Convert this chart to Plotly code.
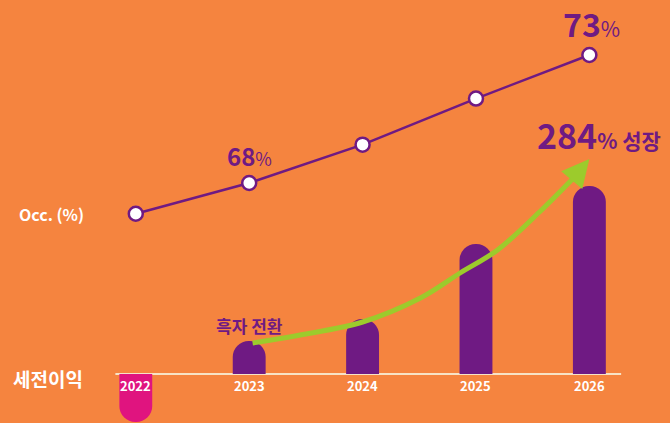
import plotly.graph_objects as go

# ---- data ----
years = [2022, 2023, 2024, 2025, 2026]
year_labels = ["2022", "2023", "2024", "2025", "2026"]
occ = [66.8, 68.0, 69.5, 71.3, 73.0]          # Occ. (%)
profit = [-48, 33, 55, 130, 188]              # 세전이익 (relative units)
bar_colors = ["#E0147F", "#6F1A83", "#6F1A83", "#6F1A83", "#6F1A83"]

# growth arrow path (bar-axis coordinates)
arrow_x = [2023.03, 2023.45, 2024.0, 2024.51, 2024.86, 2025.19, 2025.56, 2025.86]
arrow_y = [31, 39, 52, 76, 101, 124, 162, 196]

BG = "#F5843F"
PURPLE = "#6F1A83"
GREEN = "#9CCB2C"
FONT = "Noto Sans CJK KR"

fig = go.Figure()

# baseline
fig.add_shape(type="line", xref="x", yref="y", x0=2021.82, x1=2026.28, y0=0, y1=0,
              line=dict(color="#F7E3C6", width=2), layer="below")

fig.add_trace(go.Bar(x=years, y=profit, width=0.29,
                     marker=dict(color=bar_colors, cornerradius="50%", line=dict(width=0)),
                     yaxis="y", hoverinfo="skip"))

fig.add_trace(go.Scatter(x=arrow_x, y=arrow_y, mode="lines", yaxis="y",
                         line=dict(color=GREEN, width=5, shape="spline"), hoverinfo="skip"))

fig.add_trace(go.Scatter(x=years, y=occ, mode="lines+markers", yaxis="y2",
                         line=dict(color=PURPLE, width=2.5),
                         marker=dict(size=14, color="white", line=dict(color=PURPLE, width=2.5)),
                         hoverinfo="skip"))

ann = []
# arrowhead
ann.append(dict(x=2026.0, y=215, ax=2025.83, ay=192, xref="x", yref="y", axref="x", ayref="y",
                showarrow=True, arrowhead=2, arrowsize=1.1, arrowwidth=5, arrowcolor=GREEN, text=""))

# year labels
for yr, lab in zip(years, year_labels):
    ann.append(dict(x=yr, y=-11, xref="x", yref="y", text="<b>" + lab + "</b>", showarrow=False,
                    font=dict(family=FONT, size=13, color="white")))

# value labels
ann.append(dict(x=years[1], y=occ[1], xref="x", yref="y2", yshift=28, showarrow=False,
                text="<b>68</b><span style='font-size:18px'>%</span>",
                font=dict(family=FONT, size=24, color=PURPLE)))
ann.append(dict(x=years[4], y=occ[4], xref="x", yref="y2", yshift=32, xshift=2, showarrow=False,
                text="<b>73</b><span style='font-size:21px'>%</span>",
                font=dict(family=FONT, size=32, color=PURPLE)))
ann.append(dict(x=years[4], y=profit[4], xref="x", yref="y", yshift=52, xshift=10, showarrow=False,
                text="<b>284</b><span style='font-size:21px'><b>% 성장</b></span>",
                font=dict(family=FONT, size=34, color=PURPLE)))
ann.append(dict(x=years[1], y=profit[1], xref="x", yref="y", yshift=16, showarrow=False,
                text="<b>흑자 전환</b>", font=dict(family=FONT, size=17, color=PURPLE)))

# row labels
ann.append(dict(x=0.077, y=occ[0], xref="paper", yref="y2", xanchor="center", showarrow=False,
                text="<b>Occ. (%)</b>", font=dict(family=FONT, size=16, color="white")))
ann.append(dict(x=0.072, y=-4, xref="paper", yref="y", xanchor="center", showarrow=False,
                text="<b>세전이익</b>", font=dict(family=FONT, size=19, color="white")))

fig.update_layout(
    width=670, height=423,
    margin=dict(l=0, r=0, t=0, b=0),
    paper_bgcolor=BG, plot_bgcolor=BG,
    showlegend=False,
    xaxis=dict(range=[2020.8025, 2026.711], visible=False, fixedrange=True),
    yaxis=dict(range=[-49, 374], visible=False, fixedrange=True),
    yaxis2=dict(range=[58.625, 75.15], visible=False, overlaying="y", fixedrange=True),
    annotations=ann,
)

fig.write_html("out.html", config={"displayModeBar": False},
               post_script="document.body.style.margin='0';document.body.style.background='" + BG + "';")
